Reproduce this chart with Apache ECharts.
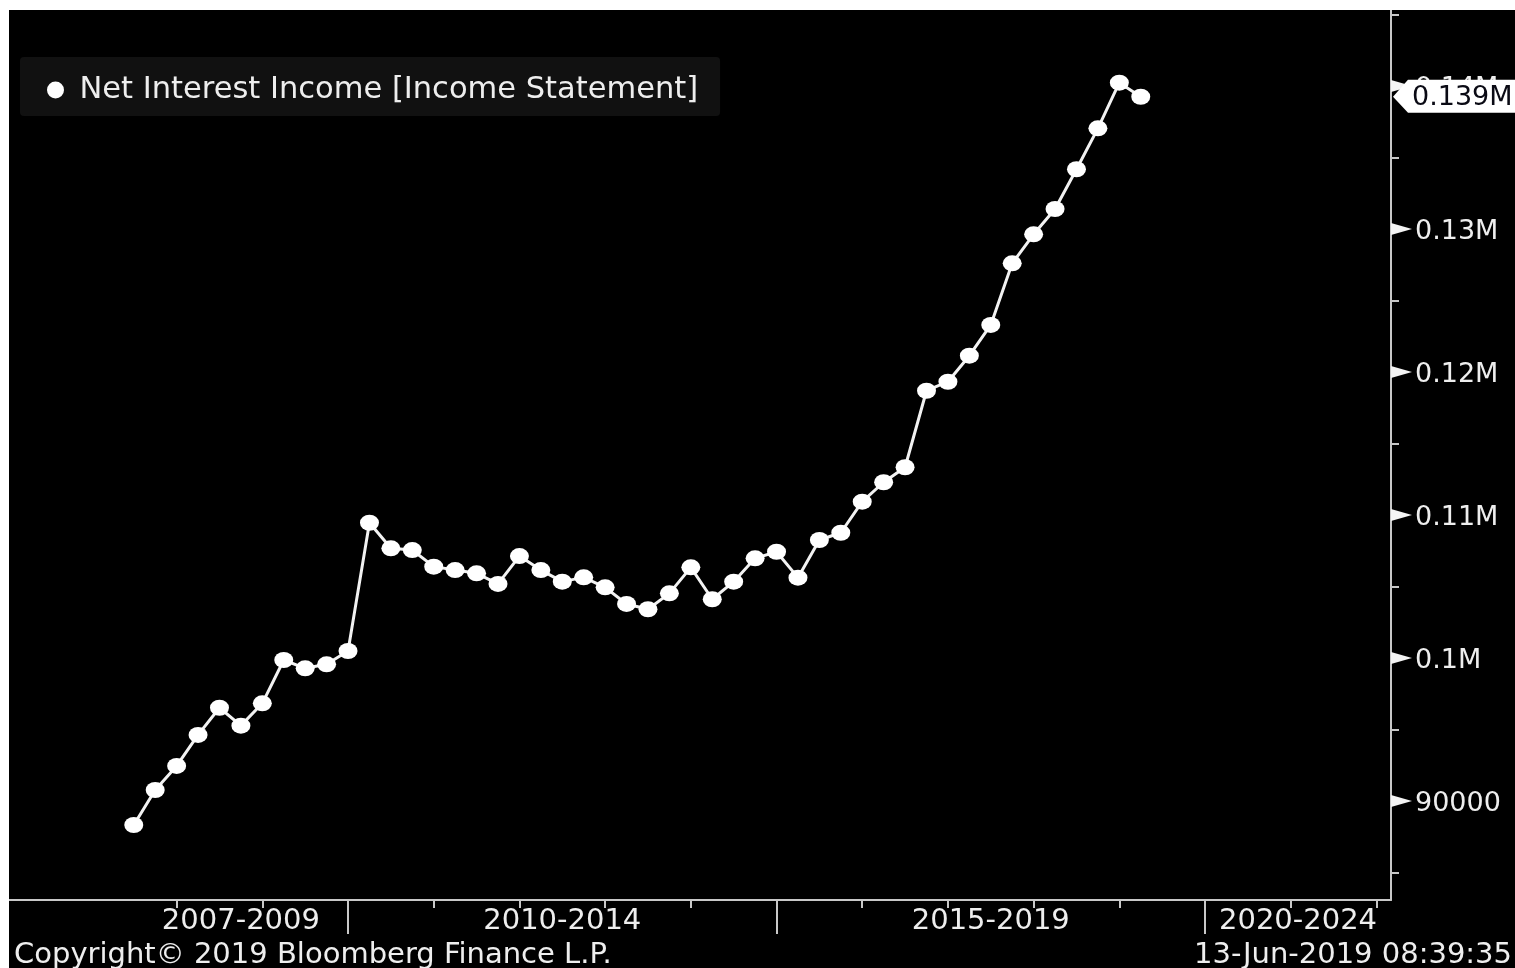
<!DOCTYPE html>
<html>
<head>
<meta charset="utf-8">
<script src="https://cdn.jsdelivr.net/npm/echarts@6.0.0/dist/echarts.min.js"></script>
<style>
  html, body { margin: 0; padding: 0; background: #ffffff; width: 1515px; height: 968px; overflow: hidden; }
  #chart { position: absolute; left: 9px; top: 10px; width: 1506px; height: 958px; background: #000; }
</style>
</head>
<body>
<div id="chart"></div>
<script>
// ---- data ----
const seriesName = 'Net Interest Income [Income Statement]';
const quarters = [
  '2007Q2','2007Q3','2007Q4',
  '2008Q1','2008Q2','2008Q3','2008Q4',
  '2009Q1','2009Q2','2009Q3','2009Q4',
  '2010Q1','2010Q2','2010Q3','2010Q4',
  '2011Q1','2011Q2','2011Q3','2011Q4',
  '2012Q1','2012Q2','2012Q3','2012Q4',
  '2013Q1','2013Q2','2013Q3','2013Q4',
  '2014Q1','2014Q2','2014Q3','2014Q4',
  '2015Q1','2015Q2','2015Q3','2015Q4',
  '2016Q1','2016Q2','2016Q3','2016Q4',
  '2017Q1','2017Q2','2017Q3','2017Q4',
  '2018Q1','2018Q2','2018Q3','2018Q4',
  '2019Q1'
];
const netInterestIncome = [
  88320, 90770, 92450,
  94620, 96520, 95270, 96830,
  99860, 99280, 99560, 100490,
  109460, 107670, 107550, 106390,
  106150, 105920, 105180, 107130,
  106150, 105340, 105640, 104940,
  103780, 103410, 104520, 106340,
  104110, 105340, 106970, 107430,
  105620, 108250, 108760, 110930,
  112290, 113340, 118690, 119320,
  121140, 123290, 127600, 129630,
  131400, 134180, 137040, 140230,
  139250
];
const periodLabels = ['2007-2009', '2010-2014', '2015-2019', '2020-2024'];
const periodStarts = [2007, 2010, 2015, 2020];
const periodEnds   = [2010, 2015, 2020, 2025];
const yearTicks = [2008, 2009, 2011, 2012, 2013, 2014, 2016, 2017, 2018, 2019, 2021, 2022];
const yMajorTicks = [90000, 100000, 110000, 120000, 130000, 140000];
const yMinorTicks = [85000, 95000, 105000, 115000, 125000, 135000, 145000];
const xMin = 2006.044, xMax = 2022.17;
const yMin = 83077, yMax = 145315;
const copyrightText = 'Copyright\u00A9 2019 Bloomberg Finance L.P.';
const stampText = '13-Jun-2019 08:39:35';

// ---- helpers ----
function qToYear(q) { return parseInt(q.slice(0, 4), 10) + parseInt(q.slice(5), 10) / 4; }
const points = quarters.map((q, i) => [qToYear(q), netInterestIncome[i]]);
const firstX = points[0][0];
const periodMids = periodStarts.map((s, i) => (Math.max(s, firstX) + Math.min(periodEnds[i], xMax)) / 2);
function yFmt(v) {
  const t = v < 100000 ? String(v) : (v / 1e6).toString().replace(/0+$/, '') + 'M';
  return '{a|' + t + '}';
}
const FONT = 'DejaVu Sans';
const TXT = '#eeeeee';
const AX = '#c8c8c8';

const chart = echarts.init(document.getElementById('chart'), null, { renderer: 'canvas' });
const option = {
  backgroundColor: '#000',
  animation: false,
  grid: { left: 0, right: 124, top: 0, bottom: 68, containLabel: false },
  legend: {
    left: 11, top: 47,
    data: [seriesName],
    icon: 'circle',
    itemWidth: 38, itemHeight: 17,
    backgroundColor: '#111111',
    borderRadius: 4,
    padding: [16, 22, 9, 27],
    textStyle: { color: TXT, fontFamily: FONT, fontSize: 30.5, lineHeight: 34 },
    selectedMode: false
  },
  xAxis: [
    {
      type: 'value', min: xMin, max: xMax, position: 'bottom',
      axisLine: { show: true, lineStyle: { color: AX, width: 2 } },
      axisTick: { show: true, customValues: yearTicks, length: 8, lineStyle: { color: AX, width: 2 } },
      axisLabel: { show: false },
      splitLine: { show: false }
    },
    {
      type: 'value', min: xMin, max: xMax, position: 'bottom',
      axisLine: { show: false },
      axisTick: { show: true, customValues: periodStarts.slice(1), length: 34, lineStyle: { color: AX, width: 2 } },
      axisLabel: {
        show: true, customValues: periodMids, margin: 7,
        color: TXT, fontFamily: FONT, fontSize: 29,
        formatter: function (v) {
          let idx = 0;
          periodMids.forEach((m, i) => { if (Math.abs(m - v) < 1e-6) idx = i; });
          return periodLabels[idx];
        }
      },
      splitLine: { show: false }
    }
  ],
  yAxis: {
    type: 'value', min: yMin, max: yMax, position: 'right',
    axisLine: { show: true, lineStyle: { color: AX, width: 2 } },
    axisTick: { show: true, customValues: yMinorTicks, length: 8, lineStyle: { color: AX, width: 2 } },
    axisLabel: {
      show: true, customValues: yMajorTicks, margin: 24,
      color: TXT, fontFamily: FONT, fontSize: 27,
      formatter: yFmt,
      rich: { a: { color: TXT, fontFamily: FONT, fontSize: 27, padding: [5, 0, 0, 0] } }
    },
    splitLine: { show: false }
  },
  series: [{
    name: seriesName,
    type: 'line',
    xAxisIndex: 0,
    data: points,
    symbol: 'circle',
    symbolSize: [19, 16],
    showSymbol: true,
    itemStyle: { color: '#ffffff', borderWidth: 0 },
    lineStyle: { color: '#f2f2f2', width: 3 },
    z: 3
  }],
  graphic: []
};
chart.setOption(option);

// axis decorations: triangle major ticks + last-value tag, positioned through the axis scale
const axisX = chart.convertToPixel({ xAxisIndex: 0 }, xMax);
const graphics = yMajorTicks.map(v => {
  const y = chart.convertToPixel({ yAxisIndex: 0 }, v);
  return {
    type: 'polygon', z: 50,
    shape: { points: [[axisX, y - 6], [axisX, y + 6], [axisX + 21, y]] },
    style: { fill: '#f4f4f4' }
  };
});
const lastVal = netInterestIncome[netInterestIncome.length - 1];
const ly = chart.convertToPixel({ yAxisIndex: 0 }, lastVal);
graphics.push({
  type: 'polygon', z: 60,
  shape: { points: [[axisX + 2, ly], [axisX + 17, ly - 17], [1506, ly - 17], [1506, ly + 16], [axisX + 17, ly + 16]] },
  style: { fill: '#ffffff' }
});
graphics.push({
  type: 'text', z: 61, x: axisX + 21, y: ly + 1,
  style: { text: (lastVal / 1e6).toFixed(3) + 'M', fill: '#0a0a14', font: '27px "DejaVu Sans"', textVerticalAlign: 'middle', textAlign: 'left' }
});
graphics.push({
  type: 'text', z: 61, x: 5, y: 945,
  style: { text: copyrightText, fill: TXT, font: '29px "DejaVu Sans"', textVerticalAlign: 'middle', textAlign: 'left' }
});
graphics.push({
  type: 'text', z: 61, x: 1503, y: 945,
  style: { text: stampText, fill: TXT, font: '29px "DejaVu Sans"', textVerticalAlign: 'middle', textAlign: 'right' }
});
chart.setOption({ graphic: graphics });
</script>
</body>
</html>
